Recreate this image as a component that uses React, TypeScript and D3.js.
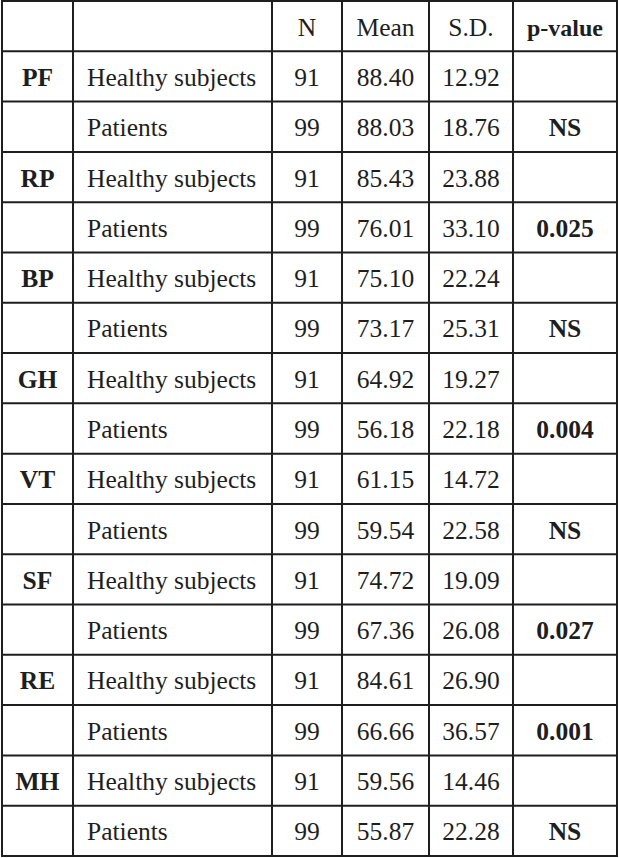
import React from "react";
import * as d3 from "d3";

const scales = ["PF", "RP", "BP", "GH", "VT", "SF", "RE", "MH"];
const groups = ["Healthy subjects", "Patients"];
const nValues = [91, 99];
const means = [88.40, 88.03, 85.43, 76.01, 75.10, 73.17, 64.92, 56.18, 61.15, 59.54, 74.72, 67.36, 84.61, 66.66, 59.56, 55.87];
const sds = [12.92, 18.76, 23.88, 33.10, 22.24, 25.31, 19.27, 22.18, 14.72, 22.58, 19.09, 26.08, 26.90, 36.57, 14.46, 22.28];
const pValues = ["NS", "0.025", "NS", "0.004", "NS", "0.027", "0.001", "NS"];
const headers = ["", "", "N", "Mean", "S.D.", "p-value"];

const W = 619;
const H = 858;
const colEdges = [2, 73, 272, 342, 429, 513, 617];
const top = 1;
const bottom = 856;
const FONT = "'Liberation Serif', 'Times New Roman', serif";
const INK = "#1e1e1e";

type Cell = { text: string; bold: boolean; align: "center" | "left" };

export default function App() {
  const nRows = 1 + scales.length * groups.length;
  const y = d3.scaleLinear().domain([0, nRows]).range([top, bottom]);

  const rows: Cell[][] = [];
  rows.push(headers.map((h, i) => ({ text: h, bold: i === 5, align: "center" })));
  scales.forEach((s, si) => {
    groups.forEach((g, gi) => {
      const k = si * 2 + gi;
      rows.push([
        { text: gi === 0 ? s : "", bold: true, align: "center" },
        { text: g, bold: false, align: "left" },
        { text: String(nValues[gi]), bold: false, align: "center" },
        { text: d3.format(".2f")(means[k]), bold: false, align: "center" },
        { text: d3.format(".2f")(sds[k]), bold: false, align: "center" },
        { text: gi === 1 ? pValues[si] : "", bold: true, align: "center" },
      ]);
    });
  });

  const hLines = d3.range(nRows + 1).map((i) => y(i));

  return (
    <svg width={W} height={H} style={{ position: "absolute", left: 0, top: 0, background: "#fff" }}>
      <rect x={0} y={0} width={W} height={H} fill="#fff" />
      {rows.map((row, ri) => {
        const cy = (y(ri) + y(ri + 1)) / 2;
        return row.map((c, ci) => {
          if (!c.text) return null;
          const x0 = colEdges[ci];
          const x1 = colEdges[ci + 1];
          const tx = c.align === "left" ? x0 + 14 : (x0 + x1) / 2;
          return (
            <text
              key={`${ri}-${ci}`}
              x={tx}
              y={cy + 9.5}
              textAnchor={c.align === "left" ? "start" : "middle"}
              fontFamily={FONT}
              fontSize={c.bold && ci === 5 && ri === 0 ? 24 : 25.5}
              fontWeight={c.bold ? "bold" : "normal"}
              fill={INK}
            >
              {c.text}
            </text>
          );
        });
      })}
      {hLines.map((yy, i) => (
        <line key={`h${i}`} x1={colEdges[0] - 1} x2={colEdges[colEdges.length - 1] + 1} y1={yy} y2={yy} stroke={INK} strokeWidth={2} />
      ))}
      {colEdges.map((xx, i) => (
        <line key={`v${i}`} x1={xx} x2={xx} y1={top - 1} y2={bottom + 1} stroke={INK} strokeWidth={2} />
      ))}
    </svg>
  );
}
